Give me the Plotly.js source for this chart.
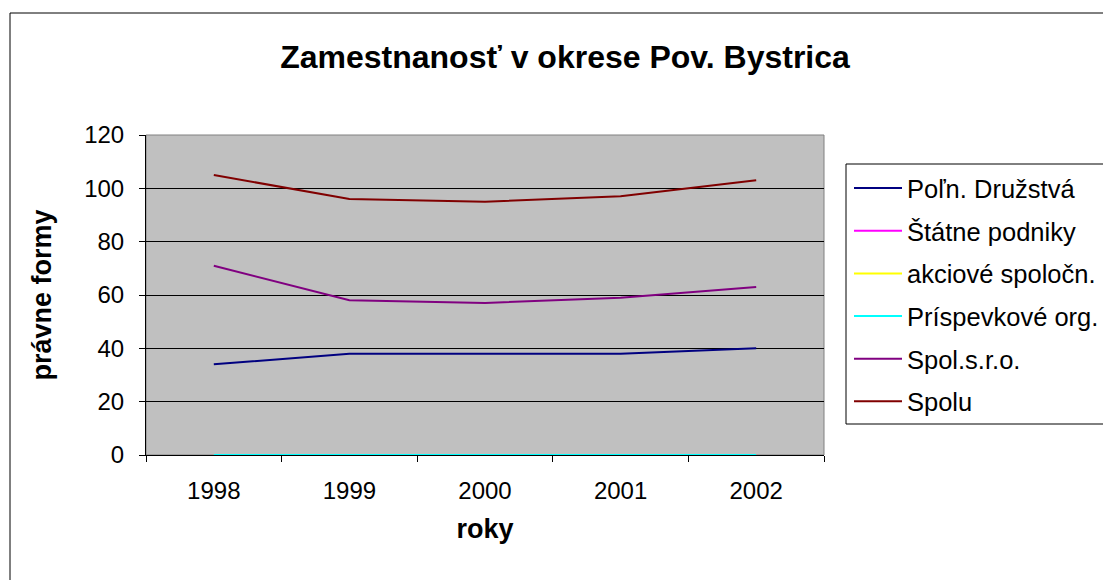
<!DOCTYPE html>
<html>
<head>
<meta charset="utf-8">
<script src="https://cdn.plot.ly/plotly-3.0.1.min.js"></script>
<style>
html,body{margin:0;padding:0;background:#fff;}
#chart{width:1103px;height:580px;}
</style>
</head>
<body>
<div id="chart"></div>
<script>
// ---- data ----
const years = ["1998", "1999", "2000", "2001", "2002"];
const polnDruzstva = [34, 38, 38, 38, 40];
const statnePodniky = [0, 0, 0, 0, 0];
const akcioveSpolocn = [0, 0, 0, 0, 0];
const prispevkoveOrg = [0, 0, 0, 0, 0];
const spolSro = [71, 58, 57, 59, 63];
const spolu = [105, 96, 95, 97, 103];
const seriesNames = ["Poľn. Družstvá", "Štátne podniky", "akciové spoločn.", "Príspevkové org.", "Spol.s.r.o.", "Spolu"];
const yTicks = [0, 20, 40, 60, 80, 100, 120];

// ---- layout geometry (pixels) ----
const W = 1103, H = 580;
const L = 146, R = 824, T = 135, B = 455;
const pw = R - L, ph = B - T;
const px = x => (x - L) / pw;
const py = y => (B - y) / ph;

const colors = ["#000080", "#FF00FF", "#FFFF00", "#00FFFF", "#800080", "#800000"];
const values = [polnDruzstva, statnePodniky, akcioveSpolocn, prispevkoveOrg, spolSro, spolu];
const FONT = "Liberation Sans, Arial, sans-serif";

const traces = values.map((v, i) => ({
  type: "scatter",
  mode: "lines",
  x: years,
  y: v,
  name: seriesNames[i],
  legendgroup: "g" + i,
  line: {color: colors[i], width: 2},
  hoverinfo: "x+y+name"
}));

const layout = {
  width: W, height: H,
  margin: {l: L, r: W - R, t: T, b: H - B, pad: 0},
  paper_bgcolor: "#ffffff",
  plot_bgcolor: "#C0C0C0",
  font: {family: FONT, size: 24, color: "#000"},
  title: {
    text: "Zamestnanosť v okrese Pov. Bystrica",
    font: {family: FONT, size: 32, color: "#000", weight: "bold"},
    xref: "container", x: 565 / W, xanchor: "center",
    yref: "container", y: 1 - 57 / H, yanchor: "middle"
  },
  xaxis: {
    type: "category",
    range: [-0.5, 4.5],
    tickson: "boundaries",
    ticks: "outside", ticklen: 6, tickcolor: "#000", tickwidth: 1,
    showline: true, linecolor: "#000", linewidth: 1,
    showgrid: false, zeroline: false,
    tickfont: {family: FONT, size: 24, color: "#000"},
    ticklabelstandoff: 14,
    title: {text: "roky", font: {family: FONT, size: 27, color: "#000", weight: "bold"}, standoff: 16},
    automargin: false, fixedrange: true
  },
  yaxis: {
    range: [0, 120],
    tickvals: yTicks,
    ticks: "outside", ticklen: 6, tickcolor: "#000", tickwidth: 1,
    showline: true, linecolor: "#000", linewidth: 1,
    showgrid: true, gridcolor: "#000", gridwidth: 1,
    zeroline: false,
    tickfont: {family: FONT, size: 24, color: "#000"},
    ticklabelstandoff: 10,
    title: {text: "právne formy", font: {family: FONT, size: 27, color: "#000", weight: "bold"}, standoff: 24},
    automargin: false, fixedrange: true
  },
  showlegend: true,
  legend: {
    xref: "container", x: 849 / W, xanchor: "left",
    yref: "container", y: 1 - 165 / H, yanchor: "top",
    bgcolor: "rgba(0,0,0,0)",
    borderwidth: 0,
    font: {family: FONT, size: 25.5, color: "#000"},
    itemwidth: 48,
    tracegroupgap: 6.5,
    traceorder: "grouped"
  },
  shapes: [
    // outer chart border
    {type: "rect", xref: "paper", yref: "paper", x0: px(10), x1: px(1115), y0: py(592), y1: py(13),
     line: {color: "#000", width: 1}, fillcolor: "rgba(0,0,0,0)", layer: "below"},
    // plot area border (top/right gray)
    {type: "rect", xref: "paper", yref: "paper", x0: 0, x1: 1, y0: 0, y1: 1,
     line: {color: "#808080", width: 1}, fillcolor: "rgba(0,0,0,0)", layer: "below"},
    // legend box
    {type: "rect", xref: "paper", yref: "paper", x0: px(846), x1: px(1115), y0: py(424), y1: py(164),
     line: {color: "#000", width: 1}, fillcolor: "rgba(0,0,0,0)", layer: "above"}
  ]
};

Plotly.newPlot("chart", traces, layout, {displayModeBar: false, staticPlot: true});
</script>
</body>
</html>
